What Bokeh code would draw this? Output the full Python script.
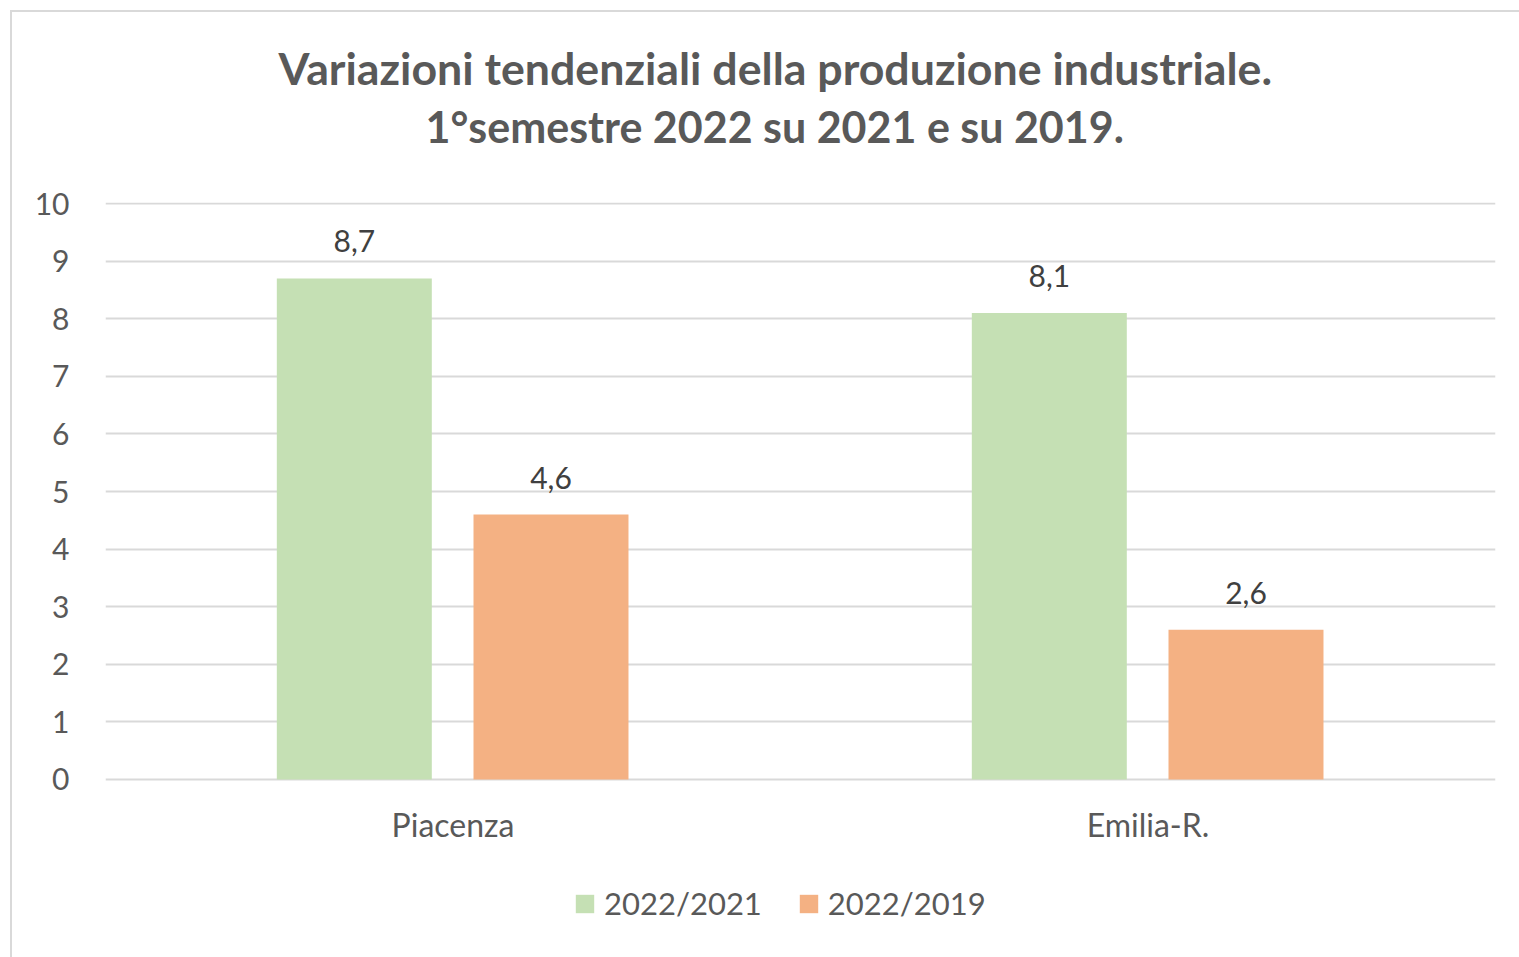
from bokeh.plotting import figure
from bokeh.models import (ColumnDataSource, FactorRange, Range1d, Title, Legend,
                          LegendItem, LabelSet, FixedTicker)
from bokeh.core.properties import value
from bokeh.transform import dodge
from bokeh.embed import file_html
from bokeh.resources import INLINE

categories = ["Piacenza", "Emilia-R."]
series_names = ["2022/2021", "2022/2019"]
v_2022_2021 = [8.7, 8.1]
v_2022_2019 = [4.6, 2.6]
y_ticks = [0, 1, 2, 3, 4, 5, 6, 7, 8, 9, 10]
title_line1 = "Variazioni tendenziali della produzione industriale."
title_line2 = "1°semestre 2022 su 2021 e su 2019."

GREEN = "#c5e0b4"
ORANGE = "#f4b183"
FONT = "Lato"

src = ColumnDataSource(dict(
    cat=categories,
    a=v_2022_2021,
    b=v_2022_2019,
    a_lbl=[f"{v:.1f}".replace(".", ",") for v in v_2022_2021],
    b_lbl=[f"{v:.1f}".replace(".", ",") for v in v_2022_2019],
))

# frame extends to the bottom of the canvas so that the legend (placed in the
# frame, below the value axis at 0) is not clipped
p = figure(x_range=FactorRange(*categories, range_padding=0),
           y_range=Range1d(-3.0903, 10.0174),
           width=1519, height=957,
           output_backend="svg", toolbar_location=None,
           min_border_left=105, min_border_right=24,
           min_border_top=202, min_border_bottom=0)
p.title = None
p.border_fill_color = None
p.background_fill_color = None
p.outline_line_color = None
p.styles = {"background-color": "white",
            "box-shadow": "inset 10px 10px 0 white, inset 12px 12px 0 #d9d9d9"}

w = 0.223
ra = p.vbar(x=dodge("cat", -0.142, range=p.x_range), top="a", width=w,
            source=src, fill_color=GREEN, line_color=None)
rb = p.vbar(x=dodge("cat", 0.141, range=p.x_range), top="b", width=w,
            source=src, fill_color=ORANGE, line_color=None)

for xo, col in [(-0.142, "a"), (0.141, "b")]:
    ls = LabelSet(x=dodge("cat", xo, range=p.x_range), y=col, text=col + "_lbl",
                  source=src, text_align="center", text_baseline="bottom",
                  y_offset=26, text_font=value(FONT), text_font_size="30px",
                  text_color="#404040")
    p.add_layout(ls)

# grid
p.xgrid.grid_line_color = None
p.ygrid.grid_line_color = "#d9d9d9"
p.ygrid.grid_line_width = 2
p.ygrid.ticker = FixedTicker(ticks=y_ticks)

# y axis
p.yaxis.ticker = FixedTicker(ticks=y_ticks)
p.yaxis.axis_line_color = None
p.yaxis.major_tick_line_color = None
p.yaxis.minor_tick_line_color = None
p.yaxis.major_label_standoff = 30
p.yaxis.major_label_text_font = FONT
p.yaxis.major_label_text_font_size = "30px"
p.yaxis.major_label_text_color = "#595959"

# x axis, pinned at value 0
p.xaxis.fixed_location = 0
p.xaxis.axis_line_color = None
p.xaxis.major_tick_line_color = None
p.xaxis.minor_tick_line_color = None
p.xaxis.major_label_standoff = 20
p.xaxis.major_label_text_font = FONT
p.xaxis.major_label_text_font_size = "32px"
p.xaxis.major_label_text_color = "#595959"

# titles (added closest-first); first one is an invisible spacer
p.add_layout(Title(text=" ", text_font_size="1px", standoff=46), "above")
p.add_layout(Title(text=title_line2, align="left", text_font=FONT,
                   text_font_size="43px", text_font_style="bold",
                   text_color="#595959", offset=320, standoff=4), "above")
p.add_layout(Title(text=title_line1, align="left", text_font=FONT,
                   text_font_size="44.7px", text_font_style="bold",
                   text_color="#595959", offset=173, standoff=4), "above")

legend = Legend(items=[LegendItem(label=series_names[0], renderers=[ra]),
                       LegendItem(label=series_names[1], renderers=[rb])],
                orientation="horizontal", location=(468, 35),
                glyph_width=23, glyph_height=23, label_text_font=FONT,
                label_text_font_size="31px", label_text_color="#595959",
                border_line_color=None, background_fill_color=None,
                spacing=35, label_standoff=8, padding=10)
p.add_layout(legend, "center")

open("out.html", "w").write(file_html(p, INLINE))
